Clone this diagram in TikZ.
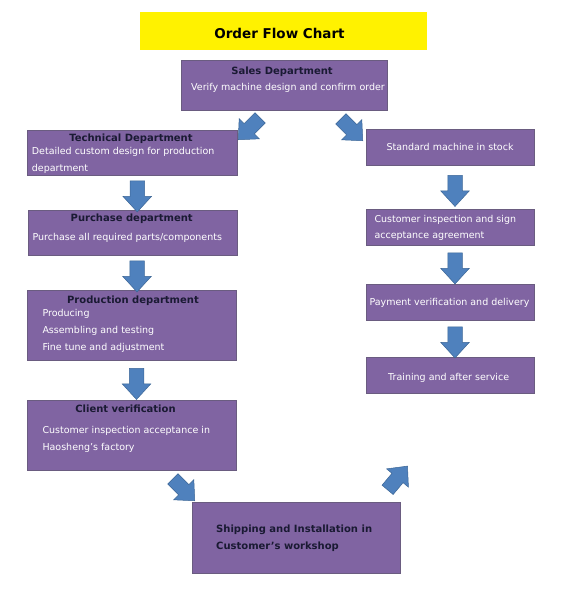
\documentclass[tikz,border=0pt]{standalone}
\usepackage{fontspec}
\setmainfont{DejaVu Sans}
\usetikzlibrary{shapes.arrows, calc}
\definecolor{deptpurple}{HTML}{8064A2}
\definecolor{deptedge}{HTML}{6A5C80}
\definecolor{flowblue}{HTML}{4F81BD}
\definecolor{flowedge}{HTML}{3C6696}
\definecolor{headnavy}{HTML}{1A1A33}
\tikzset{
  deptbox/.style={
    rectangle,
    fill=deptpurple,
    draw=deptedge,
    line width=0.8pt,
    inner sep=0pt,
  },
  % bold dark headings, white body lines
  depthead/.style={font=\bfseries\fontsize{10}{12}\selectfont, text=headnavy, inner sep=0pt},
  deptbody/.style={font=\fontsize{9.5}{17.2}\selectfont, text=white, inner sep=0pt, align=left},
  shiptext/.style={font=\bfseries\fontsize{10}{16.6}\selectfont, text=headnavy, inner sep=0pt, align=left},
  flowarr/.style={
    single arrow,
    fill=flowblue,
    draw=flowedge,
    line width=0.5pt,
    minimum width=28pt,
    minimum height=31pt,
    single arrow head extend=7pt,
    single arrow tip angle=85,
    inner xsep=0pt,
    inner ysep=7pt,
  },
}

\begin{document}
\begin{tikzpicture}[x=1pt, y=-1pt]
  \useasboundingbox (0,0) rectangle (584,599);

  % --- title ---
  \node[fill=yellow, minimum width=287pt, minimum height=38pt, inner sep=0pt] (title) at (283.5,31) {};
  \node[font=\bfseries\fontsize{13.5}{16}\selectfont, inner sep=0pt, anchor=base] (titleT) at (279.5,38.5) {Order Flow Chart};

  % --- boxes ---
  \node[deptbox, minimum width=206pt, minimum height=50pt] (sales) at (284,85) {};
  \node[deptbox, minimum width=210pt, minimum height=45pt] (tech) at (132,152.5) {};
  \node[deptbox, minimum width=209pt, minimum height=45pt] (purch) at (132.5,232.5) {};
  \node[deptbox, minimum width=209pt, minimum height=70pt] (prod) at (131.5,325) {};
  \node[deptbox, minimum width=209pt, minimum height=70pt] (client) at (131.5,435) {};
  \node[deptbox, minimum width=208pt, minimum height=71pt] (ship) at (296,537.5) {};
  \node[deptbox, minimum width=168pt, minimum height=36pt] (stock) at (450,147) {};
  \node[deptbox, minimum width=168pt, minimum height=36pt] (inspect) at (450,227) {};
  \node[deptbox, minimum width=168pt, minimum height=36pt] (pay) at (450,302) {};
  \node[deptbox, minimum width=168pt, minimum height=36pt] (train) at (450,375) {};

  % --- texts ---
  \node[depthead, anchor=base] (salesT) at (282,75) {Sales Department};
  \node[deptbody, anchor=base] (salesB) at (288,91) {Verify machine design and confirm order};

  \node[depthead, anchor=base] (techT) at (131,141.5) {Technical Department};
  \node[deptbody, anchor=north west] (techB) at (31.7,146.9)
    {Detailed custom design for production\\department};

  \node[depthead, anchor=base] (purchT) at (131.7,221.7) {Purchase department};
  \node[deptbody, anchor=base west] (purchB) at (32.3,240) {Purchase all required parts/components};

  \node[depthead, anchor=base] (prodT) at (133,303.3) {Production department};
  \node[deptbody, anchor=north west] (prodB) at (42.3,308.6)
    {Producing\\Assembling and testing\\Fine tune and adjustment};

  \node[depthead, anchor=base] (clientT) at (125.5,412.7) {Client verification};
  \node[deptbody, anchor=north west] (clientB) at (42.3,425.8)
    {Customer inspection acceptance in\\Haosheng’s factory};

  \node[shiptext, anchor=north west] (shipT) at (216,524.6)
    {Shipping and Installation in\\Customer’s workshop};

  \node[deptbody, anchor=base] (stockT) at (450,150) {Standard machine in stock};
  \node[deptbody, anchor=north west, font=\fontsize{9.5}{16.6}\selectfont] (inspectT) at (374.3,214.6)
    {Customer inspection and sign\\acceptance agreement};
  \node[deptbody, anchor=base] (payT) at (449.5,305) {Payment verification and delivery};
  \node[deptbody, anchor=base] (trainT) at (448.7,380) {Training and after service};

  % --- arrows ---
  \node[flowarr, rotate=-135] (a1) at (252,126) {};
  \node[flowarr, rotate=-45] (a2) at (349,127) {};
  \node[flowarr, rotate=-90] (a3) at ($(tech.south)!0.5!(purch.north)+(5,0)$) {};
  \node[flowarr, rotate=-90] (a4) at ($(purch.south)!0.5!(prod.north)+(5,0)$) {};
  \node[flowarr, rotate=-90] (a5) at ($(prod.south)!0.5!(client.north)+(5,0)$) {};
  \node[flowarr, rotate=-45] (a6) at (181,487) {};
  \node[flowarr, rotate=50] (a7) at (395,481) {};
  \node[flowarr, rotate=-90] (a8) at ($(stock.south)!0.5!(inspect.north)+(5,0)$) {};
  \node[flowarr, rotate=-90] (a9) at ($(inspect.south)!0.5!(pay.north)+(5,0)$) {};
  \node[flowarr, rotate=-90] (a10) at ($(pay.south)!0.5!(train.north)+(5,0)$) {};
\end{tikzpicture}
\end{document}
